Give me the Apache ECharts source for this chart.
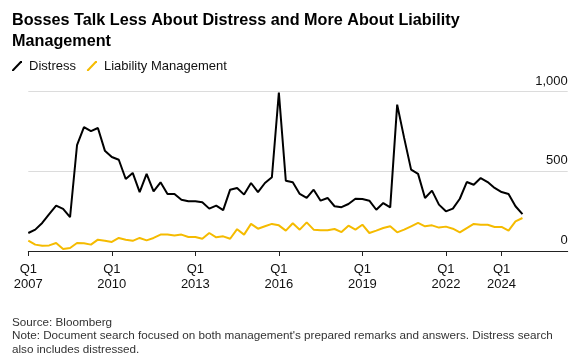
<!DOCTYPE html>
<html>
<head>
<meta charset="utf-8">
<style>
  html, body { margin: 0; padding: 0; background: #fff; }
  #chart { width: 582px; height: 361px; }
</style>
<script src="https://cdn.jsdelivr.net/npm/echarts@6/dist/echarts.min.js"></script>
</head>
<body>
<div id="chart"></div>
<script>
// Quarterly series, Q1 2007 (index 0) through Q4 2024 (index 71)
const distress = [113,134,176,232,285,264,212,664,777,752,772,630,590,573,452,490,
  370,484,375,431,358,358,322,312,312,306,266,285,257,385,396,
  354,427,369,427,463,995,441,431,358,333,385,316,333,281,275,
  295,328,326,316,259,301,274,919,710,511,484,333,379,291,249,
  266,328,433,416,458,433,396,370,358,281,232];
const liability = [65,40,33,35,50,13,19,50,48,40,71,65,57,82,71,64,
  82,67,82,103,103,98,103,88,88,77,113,86,92,77,137,
  103,170,140,155,170,161,128,174,134,180,134,130,130,138,119,
  159,134,165,113,128,144,155,117,134,155,176,155,161,147,153,
  140,117,144,170,165,165,151,151,128,186,207];
const xTickIndex = [0, 12, 24, 36, 48, 60, 68];
const xTickLabels = ['Q1\n2007','Q1\n2010','Q1\n2013','Q1\n2016','Q1\n2019','Q1\n2022','Q1\n2024'];
const yTicks = [0, 500, 1000];

const FONT = 'Liberation Sans, Arial, sans-serif';
const chart = echarts.init(document.getElementById('chart'), null, { renderer: 'canvas' });

const slash = 'path://M0,12 L2,12 L12,1.5 L12,0 L10,0 L0,10.5 Z';

chart.setOption({
  animation: false,
  textStyle: { fontFamily: FONT },
  title: [
    {
      text: 'Bosses Talk Less About Distress and More About Liability\nManagement',
      left: 12, top: 10, padding: 0,
      textStyle: { fontFamily: FONT, fontSize: 16.2, fontWeight: 'bold', color: '#000', lineHeight: 21 }
    },
    {
      text: 'Source: Bloomberg\nNote: Document search focused on both management\'s prepared remarks and answers. Distress search\nalso includes distressed.',
      left: 12, top: 316, padding: 0,
      textStyle: { fontFamily: FONT, fontSize: 11.7, fontWeight: 'normal', color: '#333', lineHeight: 13.5 }
    }
  ],
  legend: {
    left: 12, top: 59.5, padding: 0,
    itemWidth: 10, itemHeight: 11, itemGap: 11,
    icon: slash,
    textStyle: { fontFamily: FONT, fontSize: 13, color: '#111', padding: [0, 0, 0, 2] },
    data: ['Distress', 'Liability Management']
  },
  grid: { left: 28.3, right: 14.3, top: 91.7, bottom: 110, containLabel: false },
  xAxis: {
    type: 'value',
    min: 0, max: 77.5,
    axisLine: { show: true, lineStyle: { color: '#222', width: 1 } },
    axisTick: { show: true, customValues: xTickIndex, length: 5, lineStyle: { color: '#222' } },
    axisLabel: {
      customValues: xTickIndex,
      formatter: function (v) { const k = xTickIndex.indexOf(Math.round(v)); return k >= 0 ? xTickLabels[k] : ''; },
      fontFamily: FONT, fontSize: 13, color: '#111', lineHeight: 15, margin: 11
    },
    splitLine: { show: false }
  },
  yAxis: {
    type: 'value', position: 'right',
    min: yTicks[0], max: yTicks[yTicks.length - 1], interval: 500,
    axisLine: { show: false }, axisTick: { show: false },
    axisLabel: {
      inside: true, margin: 0, align: 'right', verticalAlign: 'bottom',
      padding: [0, 0, 4, 0],
      fontFamily: FONT, fontSize: 13, color: '#111',
      formatter: function (v) { return v.toLocaleString('en-US'); }
    },
    splitLine: { show: true, lineStyle: { color: '#dcdcdc', width: 1 } }
  },
  series: [
    {
      name: 'Distress', type: 'line', showSymbol: false, symbol: 'none',
      data: distress.map((v, i) => [i, v]),
      lineStyle: { color: '#000', width: 2 }, itemStyle: { color: '#000' }, z: 3
    },
    {
      name: 'Liability Management', type: 'line', showSymbol: false, symbol: 'none',
      data: liability.map((v, i) => [i, v]),
      lineStyle: { color: '#f5bb00', width: 2 }, itemStyle: { color: '#f5bb00' }, z: 2
    }
  ]
});
</script>
</body>
</html>
